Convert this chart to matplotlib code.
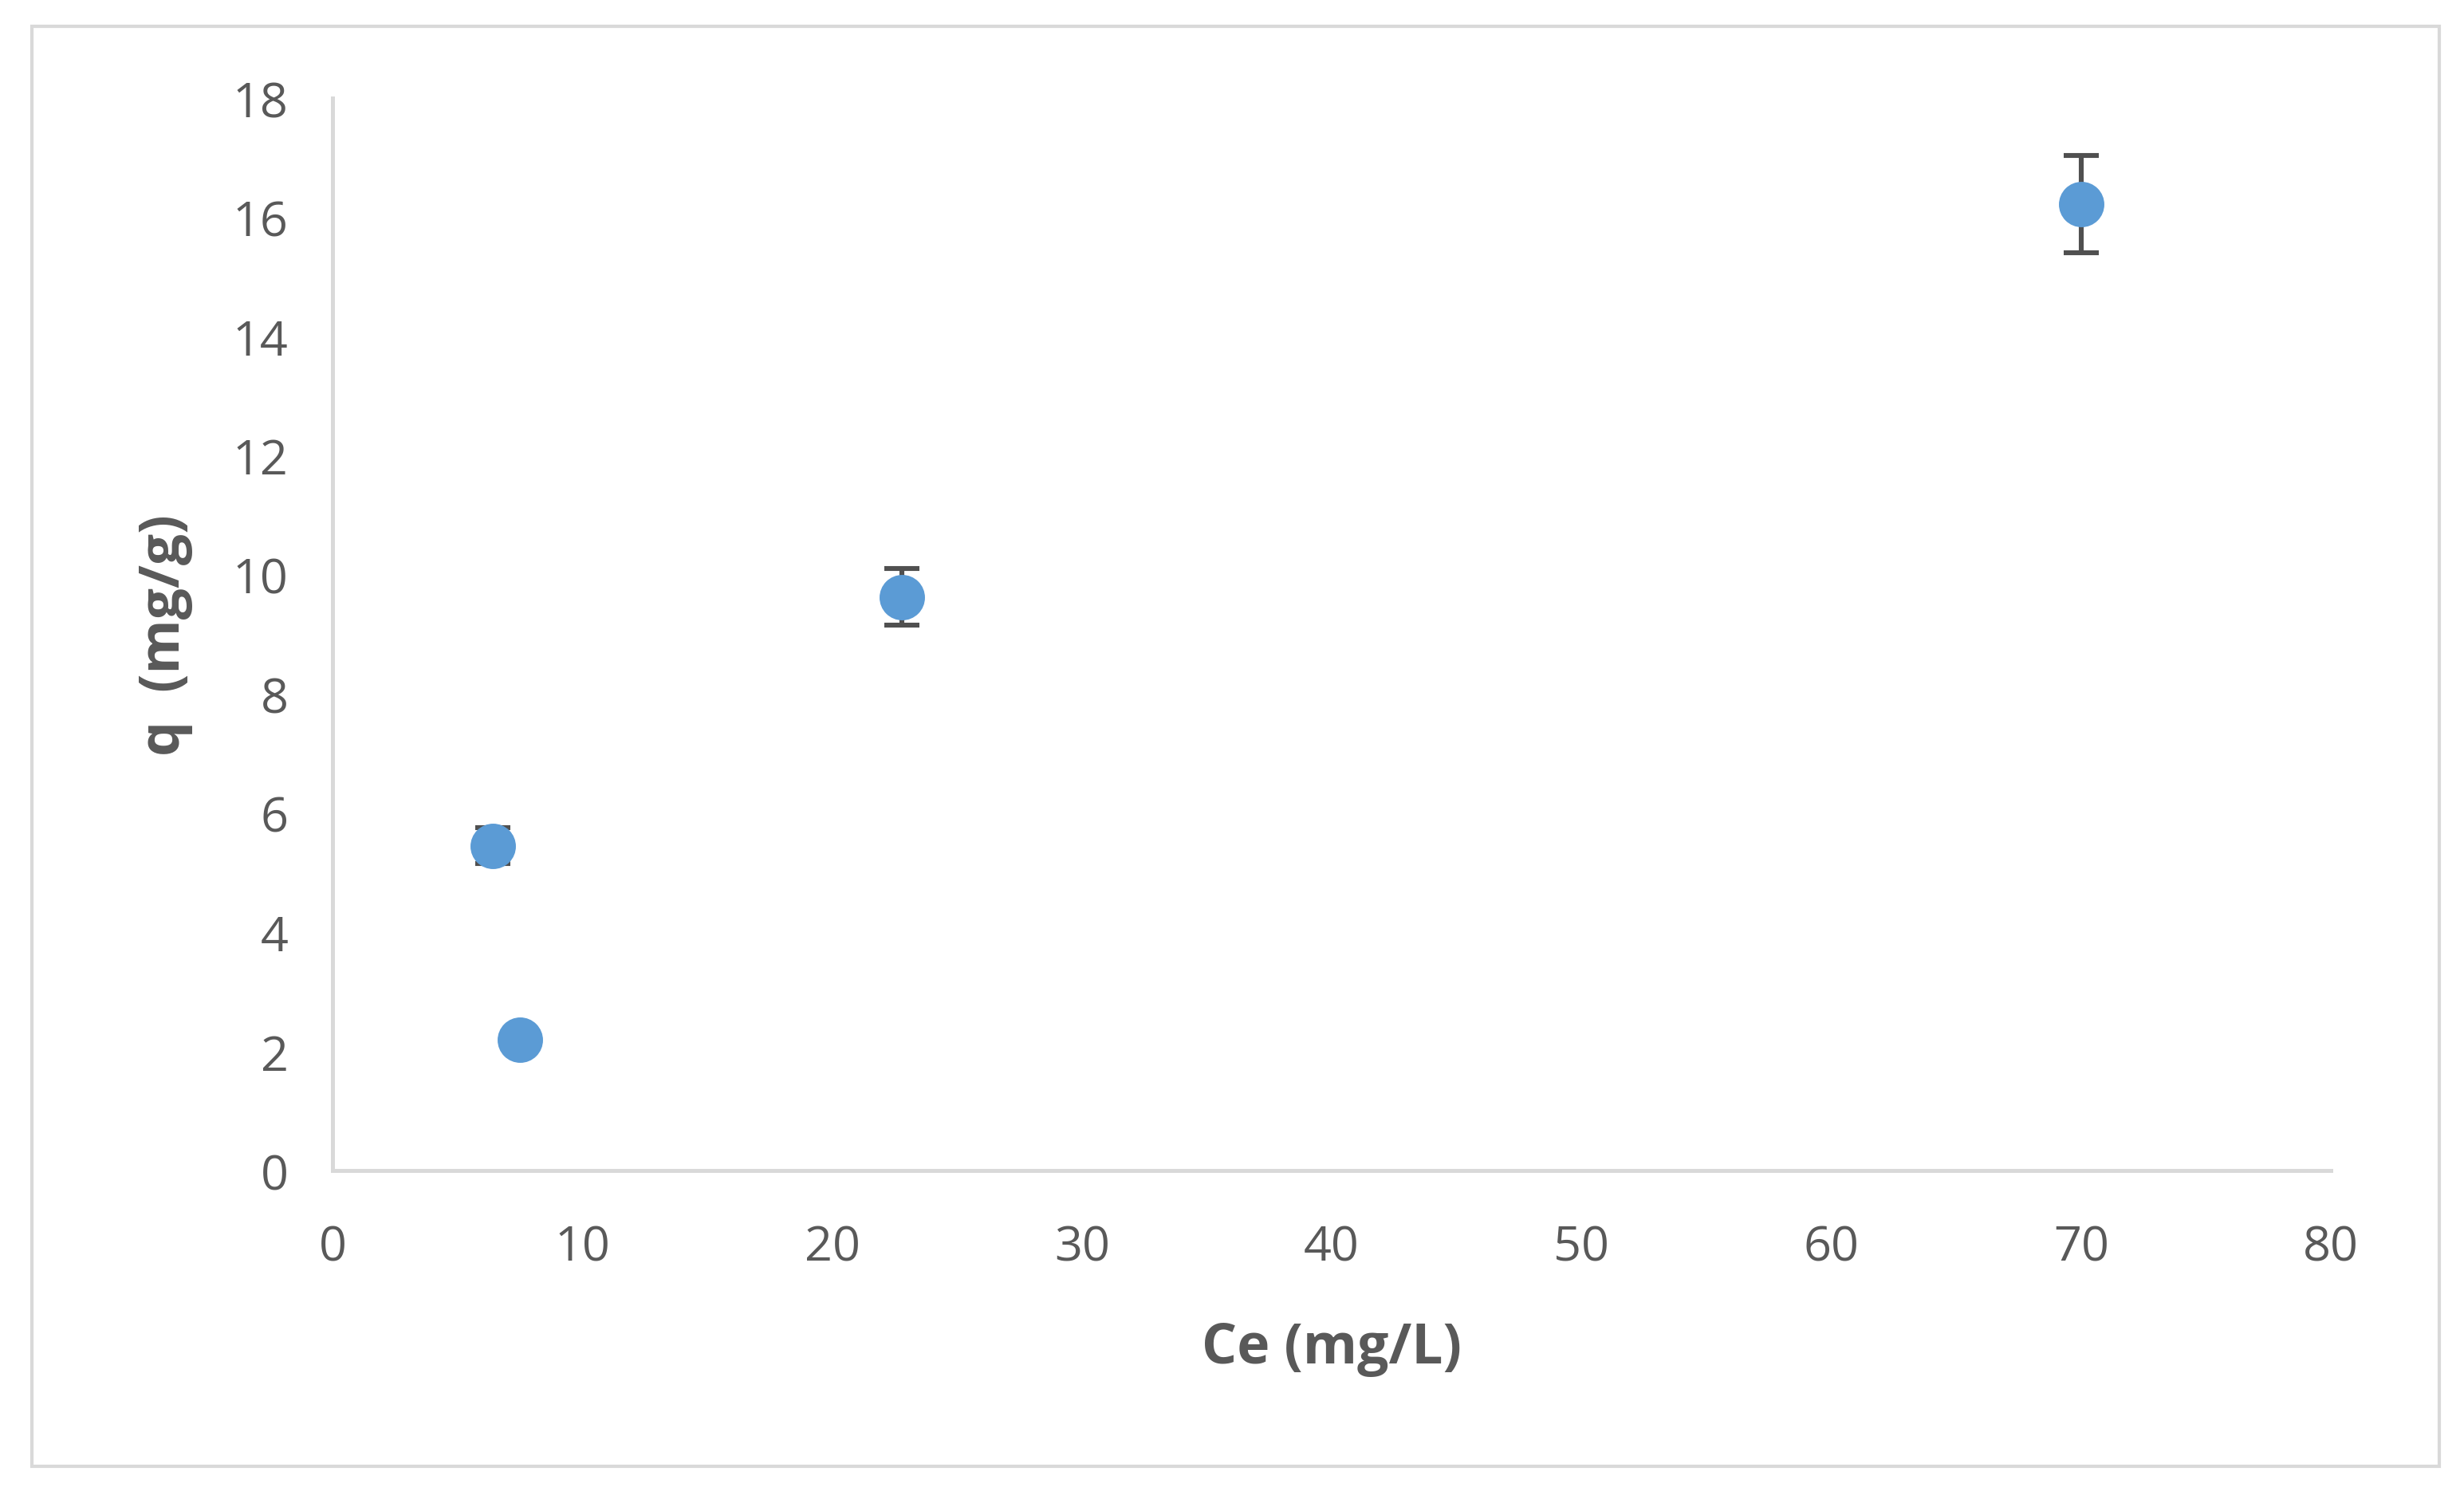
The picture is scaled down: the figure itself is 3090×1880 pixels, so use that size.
import matplotlib
matplotlib.use("Agg")
import matplotlib.pyplot as plt
from matplotlib.patches import Rectangle

plt.rcParams['font.family'] = ['Open Sans', 'DejaVu Sans']

ce = [6.4, 7.5, 22.8, 70.0]
q = [5.45, 2.2, 9.63, 16.22]
q_err = [0.3, 0.1, 0.48, 0.82]

fig = plt.figure(figsize=(15.45, 9.405), dpi=200)
fig.patches.append(Rectangle((0.013, 0.022), 0.977, 0.96, transform=fig.transFigure,
                             fill=False, edgecolor='#d9d9d9', linewidth=1.5))
ax = fig.add_axes([0.135, 0.219, 0.811, 0.715])

ax.errorbar(ce, q, yerr=q_err, fmt='none', ecolor='#505050', elinewidth=2.2,
            capsize=8, capthick=2.2, zorder=2)
ax.scatter(ce, q, s=380, color='#5b9bd5', zorder=3)

ax.set_xlim(0, 80)
ax.set_ylim(0, 18)
ax.set_xticks(range(0, 81, 10))
ax.set_yticks(range(0, 19, 2))
for s in ['top', 'right']:
    ax.spines[s].set_visible(False)
for s in ['left', 'bottom']:
    ax.spines[s].set_color('#d9d9d9')
    ax.spines[s].set_linewidth(1.8)
ax.tick_params(length=0, labelsize=22, colors='#595959')
ax.tick_params(axis='x', pad=24)
ax.tick_params(axis='y', pad=20)
ax.set_xlabel('Ce (mg/L)', fontsize=25, fontweight='bold', color='#595959', labelpad=22)
ax.set_ylabel('q  (mg/g)', fontsize=25, fontweight='bold', color='#595959', labelpad=18)

fig.savefig('out.png', dpi=200)
